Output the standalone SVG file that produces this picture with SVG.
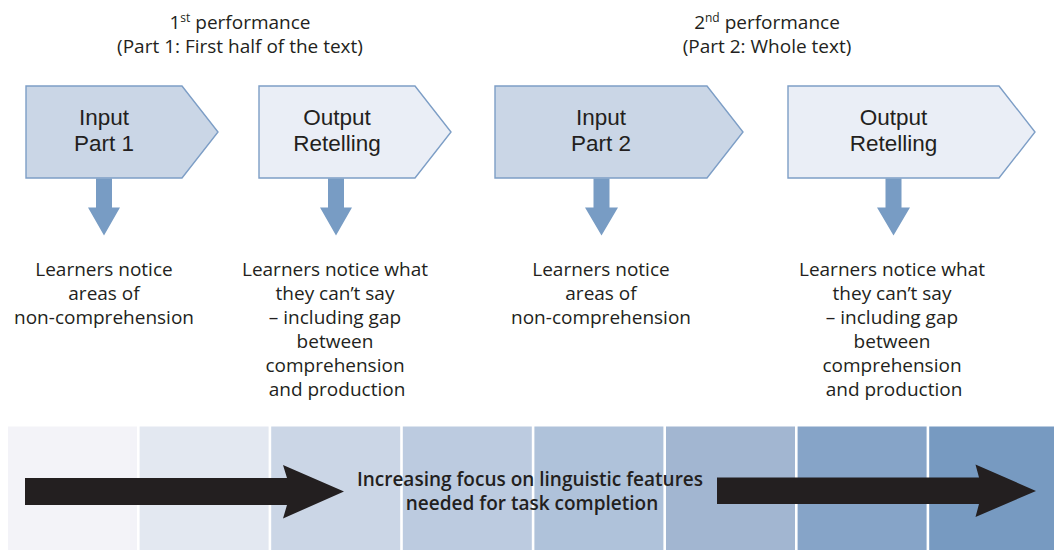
<svg xmlns="http://www.w3.org/2000/svg" width="1054" height="550" viewBox="0 0 1054 550">
<style>
  .txt { font-family: "Open Sans", "Liberation Sans", sans-serif; fill: #231f20; text-anchor: middle; }
  .title { font-size: 19px; }
  .box { font-family: "Liberation Sans", Arial, sans-serif; font-size: 22.5px; }
  .note { font-size: 19px; }
  .bold { font-family: "Open Sans", "Liberation Sans", sans-serif; font-weight: 600; font-size: 19px; fill: #231f20; text-anchor: middle; }
  .inp { fill: #cad6e6; stroke: #7d9ec6; stroke-width: 1.4; }
  .outp { fill: #eaeef6; stroke: #7d9ec6; stroke-width: 1.4; }
  .down { fill: #789cc4; }
  .big { fill: #231f20; }
</style>
<rect width="1054" height="550" fill="#ffffff"/>

<g id="band">
  <rect x="8" y="426.5" width="129" height="124" fill="#f3f3f8"/>
  <rect x="139.6" y="426.5" width="129" height="124" fill="#e3e8f1"/>
  <rect x="271.2" y="426.5" width="129" height="124" fill="#cbd6e6"/>
  <rect x="402.8" y="426.5" width="129" height="124" fill="#bccbe0"/>
  <rect x="534.4" y="426.5" width="129" height="124" fill="#afc2da"/>
  <rect x="666" y="426.5" width="129" height="124" fill="#a2b6d1"/>
  <rect x="797.6" y="426.5" width="129" height="124" fill="#86a4c8"/>
  <rect x="929.2" y="426.5" width="125" height="124" fill="#779ac1"/>
</g>

<g id="titles">
  <text class="txt title" x="240" y="29">1<tspan font-size="12" dy="-7">st</tspan><tspan dy="7"> performance</tspan></text>
  <text class="txt title" x="240" y="53">(Part 1: First half of the text)</text>
  <text class="txt title" x="767" y="29">2<tspan font-size="12" dy="-7">nd</tspan><tspan dy="7"> performance</tspan></text>
  <text class="txt title" x="767" y="53">(Part 2: Whole text)</text>
</g>

<g id="node-input1">
  <path class="inp" d="M26,86 H182 L218,132 L182,178 H26 Z"/>
  <text class="txt box" x="104" y="125">Input</text>
  <text class="txt box" x="104" y="151">Part 1</text>
</g>
<g id="node-output1">
  <path class="outp" d="M259,86 H415 L451,132 L415,178 H259 Z"/>
  <text class="txt box" x="337" y="125">Output</text>
  <text class="txt box" x="337" y="151">Retelling</text>
</g>
<g id="node-input2">
  <path class="inp" d="M495,86 H707 L743,132 L707,178 H495 Z"/>
  <text class="txt box" x="601" y="125">Input</text>
  <text class="txt box" x="601" y="151">Part 2</text>
</g>
<g id="node-output2">
  <path class="outp" d="M788,86 H999 L1035,132 L999,178 H788 Z"/>
  <text class="txt box" x="893.5" y="125">Output</text>
  <text class="txt box" x="893.5" y="151">Retelling</text>
</g>

<g id="connectors">
  <path class="down" d="M96,178.5 H112 V207.5 H120 L104,235.5 L88,207.5 H96 Z"/>
  <path class="down" d="M328,178.5 H344 V207.5 H352 L336,235.5 L320,207.5 H328 Z"/>
  <path class="down" d="M593.5,178.5 H609.5 V207.5 H618 L601.5,235.5 L585,207.5 H593.5 Z"/>
  <path class="down" d="M885.5,178.5 H901.5 V207.5 H910 L893.5,235.5 L877,207.5 H885.5 Z"/>
  <path class="big" d="M25,478 H287 L283,465 L344,491.5 L283,518.5 L287,505 H25 Z"/>
  <path class="big" d="M717,477.5 H979 L975.5,464.5 L1036,491 L975.5,517 L979,504 H717 Z"/>
</g>

<g id="note1">
  <text class="txt note" x="104" y="276">Learners notice</text>
  <text class="txt note" x="104" y="300">areas of</text>
  <text class="txt note" x="104" y="324">non-comprehension</text>
</g>
<g id="note2">
  <text class="txt note" x="335" y="276">Learners notice what</text>
  <text class="txt note" x="335" y="300">they can’t say</text>
  <text class="txt note" x="335" y="324">– including gap</text>
  <text class="txt note" x="335" y="348">between</text>
  <text class="txt note" x="335" y="372">comprehension</text>
  <text class="txt note" x="337" y="396">and production</text>
</g>
<g id="note3">
  <text class="txt note" x="601" y="276">Learners notice</text>
  <text class="txt note" x="601" y="300">areas of</text>
  <text class="txt note" x="601" y="324">non-comprehension</text>
</g>
<g id="note4">
  <text class="txt note" x="892" y="276">Learners notice what</text>
  <text class="txt note" x="892" y="300">they can’t say</text>
  <text class="txt note" x="892" y="324">– including gap</text>
  <text class="txt note" x="892" y="348">between</text>
  <text class="txt note" x="892" y="372">comprehension</text>
  <text class="txt note" x="894" y="396">and production</text>
</g>

<g id="focus-label">
  <text class="bold" x="530" y="486">Increasing focus on linguistic features</text>
  <text class="bold" x="532" y="510">needed for task completion</text>
</g>
</svg>
